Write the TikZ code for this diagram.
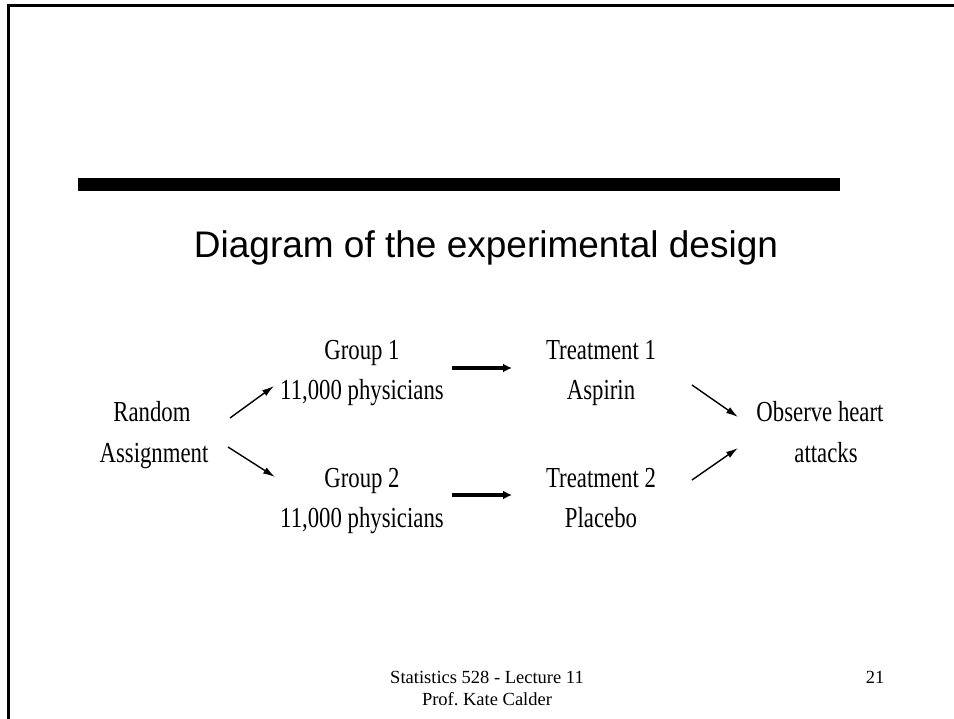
\documentclass[tikz,border=0pt]{standalone}
\usepackage{fontspec}
\setmainfont{Liberation Serif}
\newfontfamily\diagfont[FakeStretch=0.785]{Liberation Serif}
\newfontfamily\titlefont{Liberation Sans}
\usetikzlibrary{arrows.meta}
\tikzset{
  dtext/.style={anchor=base, inner sep=0pt, font=\diagfont\fontsize{29}{35}\selectfont},
  ftext/.style={anchor=base, inner sep=0pt, font=\fontsize{18.5}{22}\selectfont},
  thinarrow/.style={line width=1.4pt, -{Latex[length=12pt,width=7pt]}},
  thickarrow/.style={line width=4pt, -{Latex[length=9pt,width=9pt]}},
}
\begin{document}
\begin{tikzpicture}[x=1pt,y=-1pt]
\useasboundingbox (0,0) rectangle (954,719);
\fill[white] (0,0) rectangle (954,719);
% frame
\draw[line width=2.5pt, line join=miter] (954,5.5) -- (8.5,5.5) -- (8.5,719);
% title bar
\fill[black] (78,178) rectangle (840,191);
\node[anchor=base, inner sep=0pt, font=\titlefont\fontsize{37}{44}\selectfont] (title) at (486,258) {Diagram of the experimental design};
% diagram texts
\node[dtext] (rnd) at (152,422) {Random};
\node[dtext] (asg) at (154,462) {Assignment};
\node[dtext] (g1a) at (362,360) {Group 1};
\node[dtext] (g1b) at (362,400) {11,000 physicians};
\node[dtext] (g2a) at (362,487) {Group 2};
\node[dtext] (g2b) at (362,527) {11,000 physicians};
\node[dtext] (t1a) at (601,360) {Treatment 1};
\node[dtext] (t1b) at (601,400) {Aspirin};
\node[dtext] (t2a) at (601,487) {Treatment 2};
\node[dtext] (t2b) at (601,527) {Placebo};
\node[dtext] (obs) at (820,422) {Observe heart};
\node[dtext] (att) at (826,462) {attacks};
% arrow end points
\coordinate (a1s) at (230,418); \coordinate (a1e) at (274,386);
\coordinate (a2s) at (228,447); \coordinate (a2e) at (275,477);
\coordinate (a3s) at (452,368); \coordinate (a3e) at (512,368);
\coordinate (a4s) at (452,495); \coordinate (a4e) at (512,495);
\coordinate (a5s) at (692,385); \coordinate (a5e) at (738,417);
\coordinate (a6s) at (692,480); \coordinate (a6e) at (738,448);
\draw[thinarrow] (a1s) -- (a1e);
\draw[thinarrow] (a2s) -- (a2e);
\draw[thickarrow] (a3s) -- (a3e);
\draw[thickarrow] (a4s) -- (a4e);
\draw[thinarrow] (a5s) -- (a5e);
\draw[thinarrow] (a6s) -- (a6e);
% footer
\node[ftext] (ft1) at (487,683) {Statistics 528 - Lecture 11};
\node[ftext] (ft2) at (487,705) {Prof.\ Kate Calder};
\node[ftext] (pg) at (875,683) {21};
\end{tikzpicture}
\end{document}
